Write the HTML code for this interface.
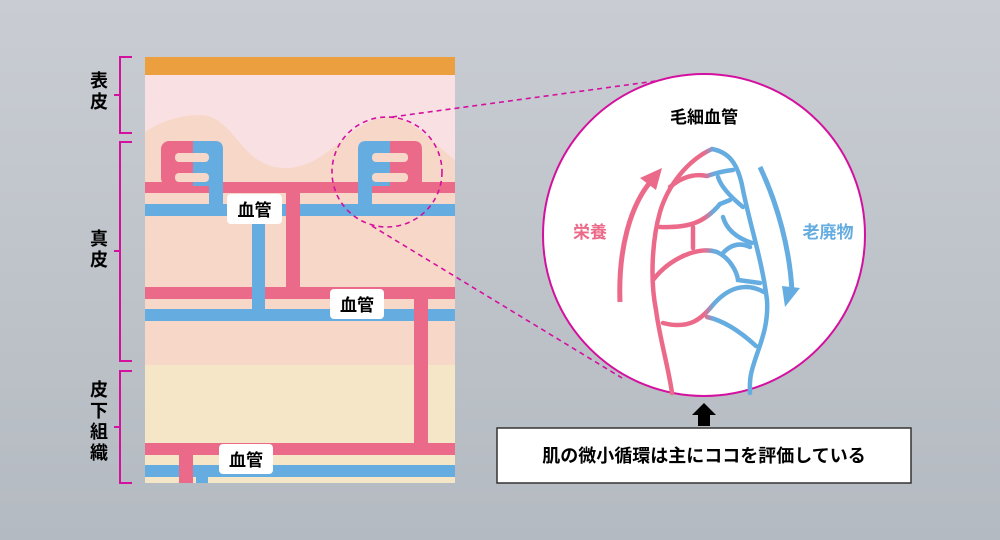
<!DOCTYPE html>
<html><head><meta charset="utf-8"><style>
body{margin:0;width:1000px;height:540px;overflow:hidden;background:linear-gradient(#c9cdd3,#b4bac1);}
svg{display:block}
text{font-family:"Liberation Sans","Noto Sans CJK JP",sans-serif;font-weight:bold}
</style></head><body>
<svg width="1000" height="540" viewBox="0 0 1000 540">
<defs>
<linearGradient id="g" gradientUnits="userSpaceOnUse" x1="704" y1="0" x2="714" y2="0">
<stop offset="0" stop-color="#ec6a89"/><stop offset="1" stop-color="#65ade0"/></linearGradient>
<clipPath id="cp"><rect x="145" y="57" width="310" height="426"/></clipPath>
</defs>
<g clip-path="url(#cp)">
<rect x="145" y="57" width="310" height="426" fill="#f7d8c8"/>
<rect x="145" y="365" width="310" height="118" fill="#f5e6c8"/>
<path d="M145 75 H455 V160 C430 140 410 117 390 117 C350 117 330 168 285 168 C240 168 235 115 200 115 C175 115 155 125 145 132 Z" fill="#f9e0e3"/>
<rect x="145" y="57" width="310" height="18" fill="#eb9f3f"/>
<!-- horizontal vessels -->
<rect x="145" y="182" width="310" height="11" fill="#ec6a89"/>
<rect x="145" y="204" width="310" height="12" fill="#65ade0"/>
<rect x="145" y="287" width="310" height="12" fill="#ec6a89"/>
<rect x="145" y="309" width="310" height="12" fill="#65ade0"/>
<rect x="145" y="443" width="310" height="12" fill="#ec6a89"/>
<rect x="145" y="465" width="310" height="12" fill="#65ade0"/>
<!-- verticals -->
<rect x="252" y="214" width="13" height="97" fill="#65ade0"/>
<rect x="286" y="191" width="14" height="98" fill="#ec6a89"/>
<rect x="414" y="297" width="14" height="148" fill="#ec6a89"/>
<rect x="179" y="453" width="14" height="40" fill="#ec6a89"/>
<rect x="196" y="475" width="12" height="20" fill="#65ade0"/>
<!-- left loop -->
<rect x="161" y="141" width="32" height="45" rx="8" fill="#ec6a89"/>
<rect x="175" y="141" width="18" height="45" fill="#ec6a89"/>
<path d="M193 141 H215 Q223 141 223 149 V210 H209 V186 H193 Z" fill="#65ade0"/>
<rect x="175" y="153" width="34" height="9" rx="4" fill="#f7d8c8"/>
<rect x="175" y="173" width="34" height="9" rx="4" fill="#f7d8c8"/>
<!-- right loop -->
<path d="M390 141 H366 Q358 141 358 149 V210 H372 V186 H390 Z" fill="#65ade0"/>
<path d="M390 141 H414 Q422 141 422 149 V186 H390 Z" fill="#ec6a89"/>
<rect x="372" y="153" width="36" height="9" rx="4" fill="#f7d8c8"/>
<rect x="372" y="173" width="36" height="9" rx="4" fill="#f7d8c8"/>
</g>
<!-- labels -->
<rect x="227" y="194" width="55" height="30" rx="4" fill="#fff"/>
<text x="254.5" y="216" font-size="17" text-anchor="middle">血管</text>
<rect x="330" y="289" width="54" height="30" rx="4" fill="#fff"/>
<text x="357" y="311" font-size="17" text-anchor="middle">血管</text>
<rect x="219" y="444" width="54" height="30" rx="4" fill="#fff"/>
<text x="246" y="466" font-size="17" text-anchor="middle">血管</text>
<!-- brackets -->
<g stroke="#d4109f" stroke-width="2" fill="none">
<path d="M132 57 H120 V133 H132 M120 95 H114"/>
<path d="M132 142 H120 V361 H132 M120 251 H114"/>
<path d="M132 371 H120 V483 H132 M120 427 H114"/>
</g>
<g font-size="18" text-anchor="middle">
<text x="99" y="87">表</text><text x="99" y="108">皮</text>
<text x="99" y="245">真</text><text x="99" y="266">皮</text>
<text x="99" y="396">皮</text><text x="99" y="417">下</text><text x="99" y="438">組</text><text x="99" y="459">織</text>
</g>
<!-- dashed zoom -->
<g stroke="#d4109f" stroke-width="1.6" fill="none" stroke-dasharray="5,4">
<ellipse cx="387" cy="172" rx="55" ry="55"/>
<path d="M392 117 L700 75"/>
<path d="M372 226 L622 378"/>
</g>
<!-- circle -->
<circle cx="704" cy="235" r="161" fill="#fff" stroke="#d4109f" stroke-width="2"/>
<text x="704" y="123" font-size="17" text-anchor="middle">毛細血管</text>
<text x="590" y="238" font-size="17" text-anchor="middle" fill="#ec6a89">栄養</text>
<text x="828" y="238" font-size="17" text-anchor="middle" fill="#65ade0">老廃物</text>
<path d="M620 302 C618 250 630 205 652 180" stroke="#ec6a89" stroke-width="5" fill="none"/>
<path d="M662 168 L640 178 L656 190 Z" fill="#ec6a89"/>
<path d="M760 167 C778 205 790 250 792 292" stroke="#65ade0" stroke-width="5" fill="none"/>
<path d="M785 307 L782 286 L800 288 Z" fill="#65ade0"/>
<g stroke="url(#g)" stroke-width="4.5" fill="none" stroke-linecap="round">
<path d="M672 393 C668 365 660 340 656 310 C650 280 652 240 660 212 C668 185 688 160 712 149 C728 152 738 162 743 190 C750 225 762 260 767 300 C769 330 757 350 752 370 C749 380 750 390 750 393"/>
<path d="M670 187 Q688 172 707 176 Q722 171 733 170"/>
<path d="M718 177 Q722 190 743 207"/>
<path d="M660 227 C690 228 705 222 720 204 L730 200"/>
<path d="M723 217 Q728 235 752 243"/>
<path d="M693 227 V248"/>
<path d="M653 280 C670 258 698 246 717 252 C730 258 737 272 738 280 L760 283"/>
<path d="M723 253 Q735 240 750 247"/>
<path d="M663 323 C690 330 702 318 712 306 C728 287 746 282 764 292"/>
<path d="M707 317 Q730 322 756 346"/>
</g>
<!-- arrow and box -->
<path d="M704 403 L716 415 H710 V426 H698 V415 H692 Z" fill="#000"/>
<rect x="497" y="428" width="414" height="55" fill="#fff" stroke="#333" stroke-width="1.5"/>
<text x="704" y="462" font-size="18" text-anchor="middle">肌の微小循環は主にココを評価している</text>
</svg>
</body></html>
